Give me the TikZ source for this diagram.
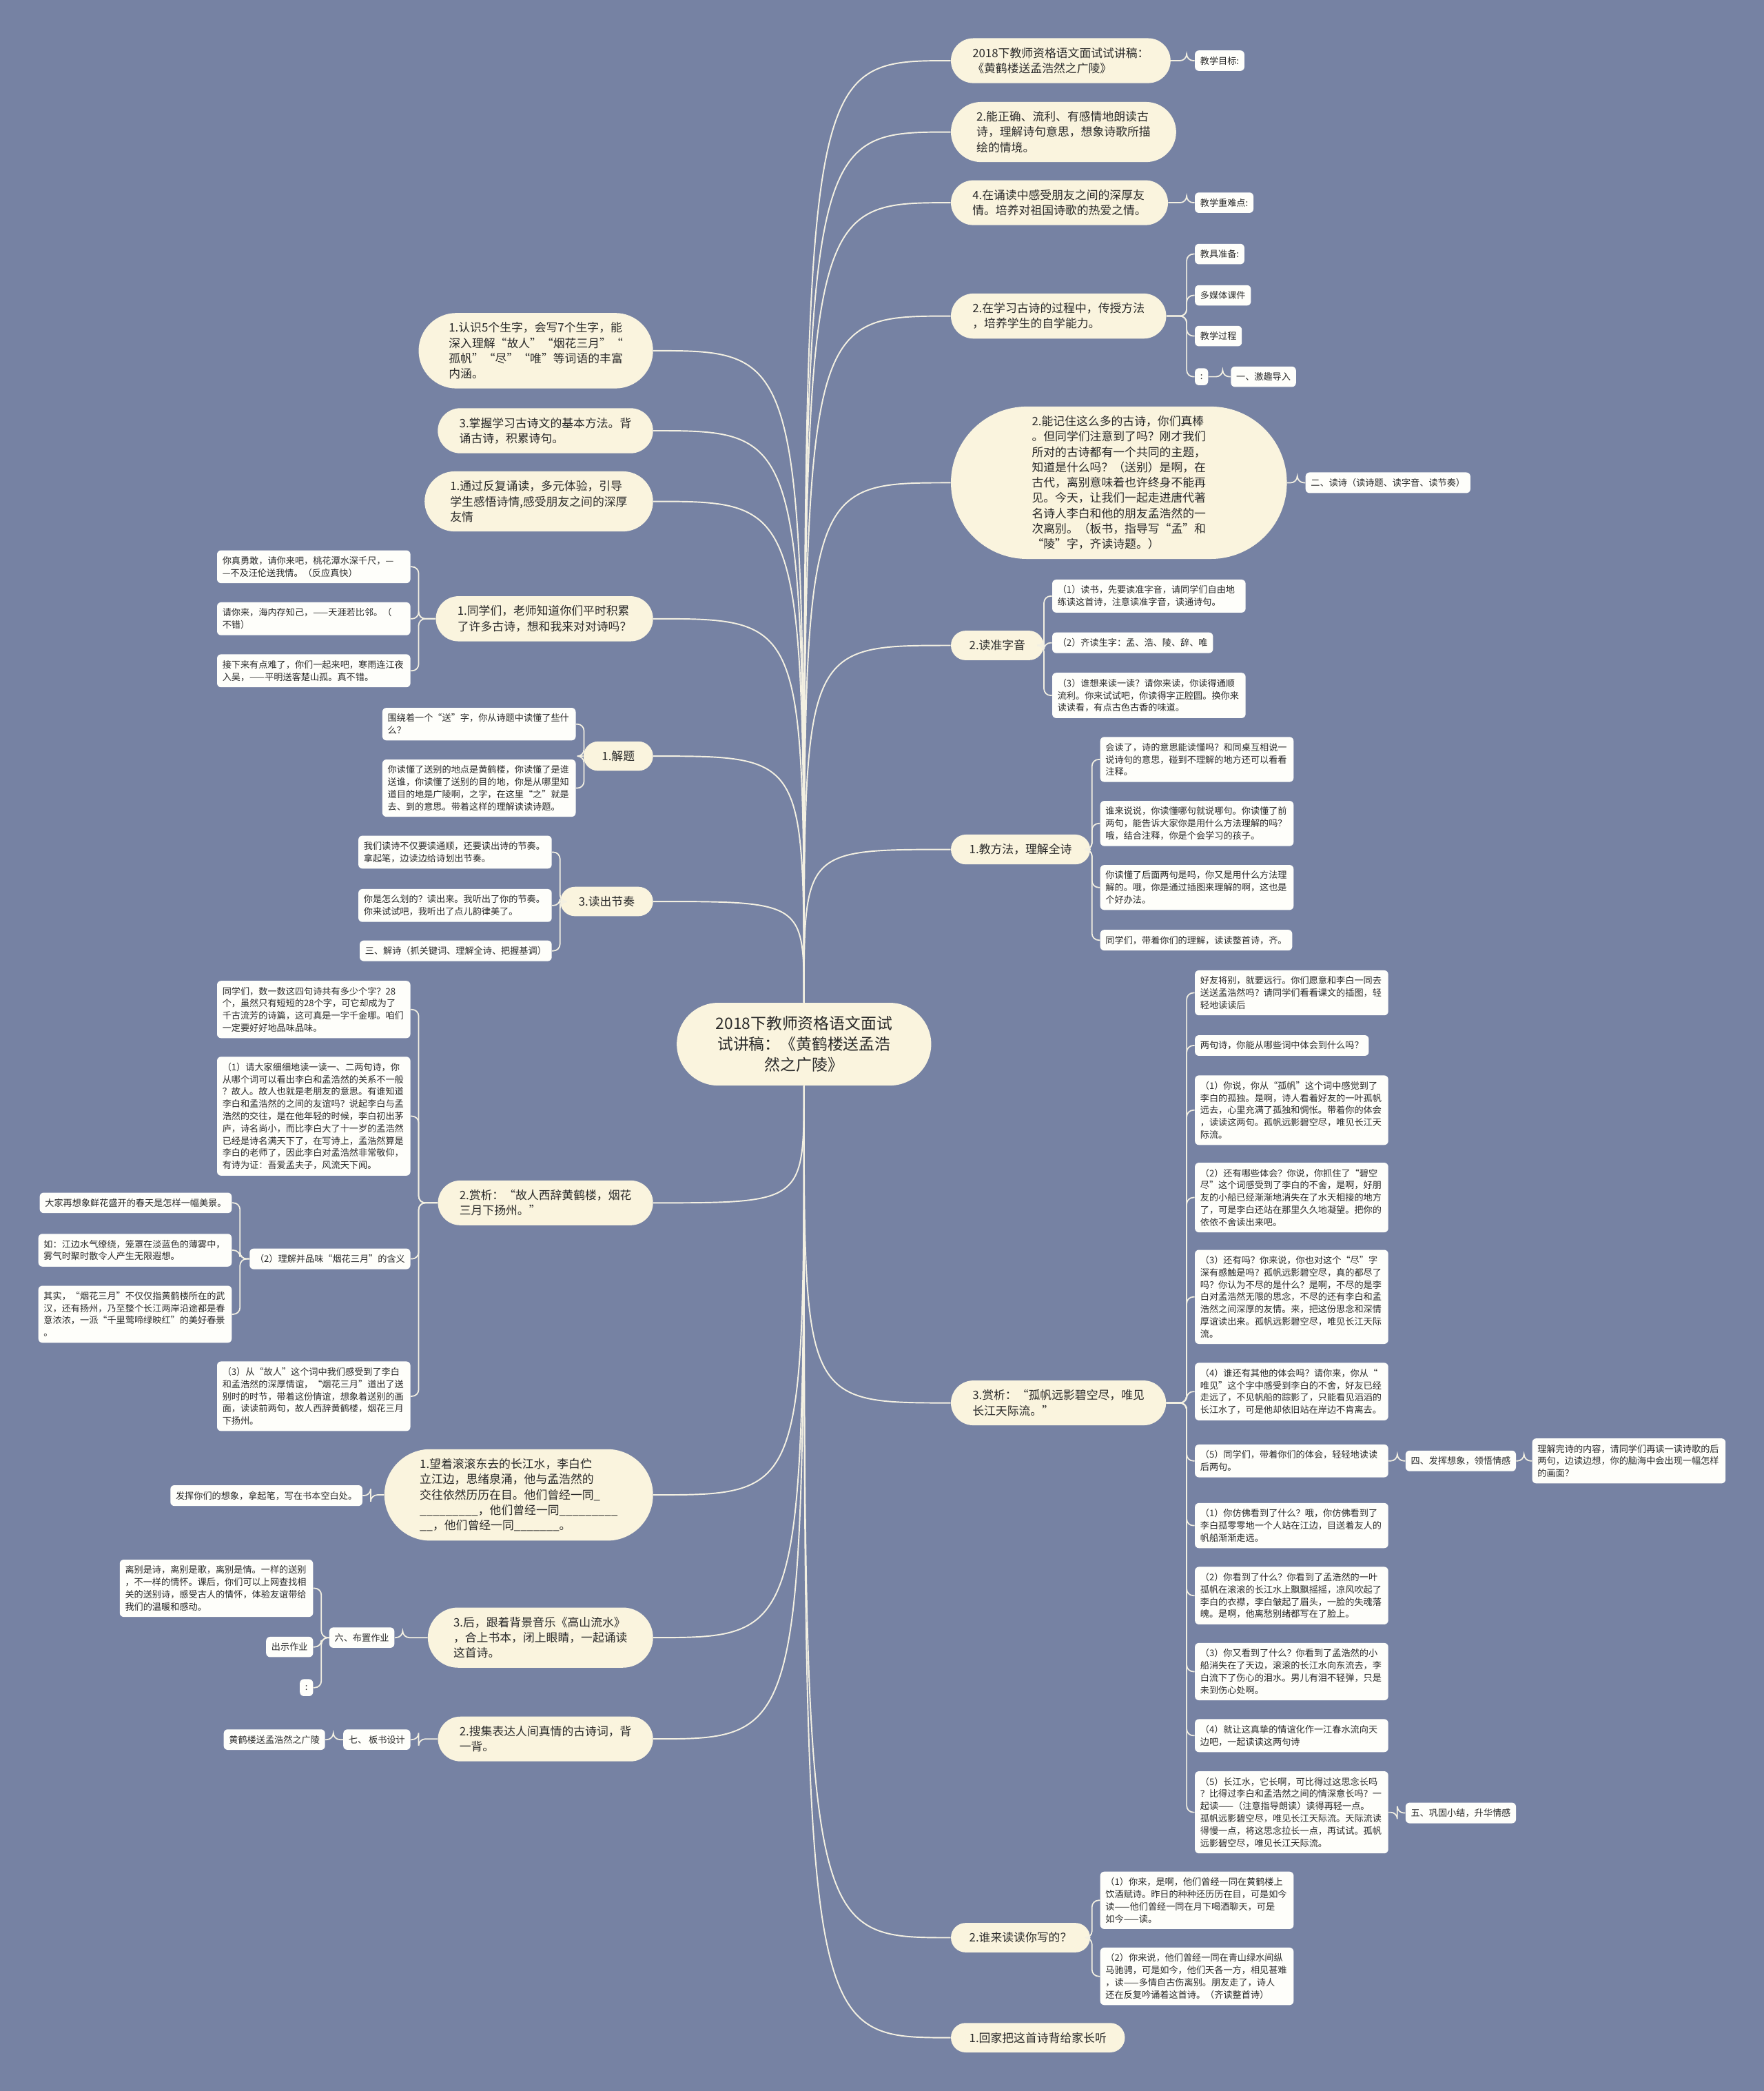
\documentclass[tikz,border=0pt]{standalone}
\usepackage{fontspec}
\setmainfont{Noto Sans CJK SC}
\usetikzlibrary{shapes.misc}
\definecolor{cBg}   {HTML}{7682A3}
\definecolor{cTopic}{HTML}{FAF4DE}
\definecolor{cLeaf} {HTML}{FEFEFA}
\definecolor{cLine} {HTML}{F3F0E2}
\definecolor{cText} {HTML}{2A2A2A}

\begin{document}
\begin{tikzpicture}[x=1pt, y=-1pt,
    hub/.style = {shape=rounded rectangle, fill=cTopic, text=cText, align=center, inner xsep=21pt, inner ysep=10pt, font=\fontsize{11.8}{15.5}\selectfont},
    topic/.style = {shape=rounded rectangle, fill=cTopic, text=cText, align=left, inner xsep=13pt, inner ysep=7pt, font=\fontsize{8.7}{11.5}\selectfont},
    leaf/.style = {fill=cLeaf, text=cText, rounded corners=3pt, align=left, inner xsep=4pt, inner ysep=4.5pt, font=\fontsize{6.8}{9.2}\selectfont},
    para/.style = {leaf, text width=137pt},
    link/.style = {draw=cLine, line width=1pt},
    branch/.style = {draw=cLine, line width=0.9pt, rounded corners=5pt} ]
  \fill[cBg] (0,0) rectangle (1323,1568);
  \useasboundingbox (0,0) rectangle (1323,1568);

  \node[hub] (root) at (603,783) {2018下教师资格语文面试\\试讲稿：《黄鹤楼送孟浩\\然之广陵》};

  % right side
  \node[topic, anchor=west] (r1) at (713,45.5) {2018下教师资格语文面试试讲稿：\\《黄鹤楼送孟浩然之广陵》};
  \node[topic, anchor=west] (r2) at (713,99) {2.能正确、流利、有感情地朗读古\\诗，理解诗句意思，想象诗歌所描\\绘的情境。};
  \node[topic, anchor=west] (r3) at (713,152) {4.在诵读中感受朋友之间的深厚友\\情。培养对祖国诗歌的热爱之情。};
  \node[topic, anchor=west] (r4) at (713,237) {2.在学习古诗的过程中，传授方法\\，培养学生的自学能力。};
  \node[topic, anchor=west, inner xsep=31pt] (r5) at (713,362) {2.能记住这么多的古诗，你们真棒\\。但同学们注意到了吗？刚才我们\\所对的古诗都有一个共同的主题，\\知道是什么吗？（送别）是啊，在\\古代，离别意味着也许终身不能再\\见。今天，让我们一起走进唐代著\\名诗人李白和他的朋友孟浩然的一\\次离别。（板书，指导写“孟”和\\“陵”字，齐读诗题。）};
  \node[topic, anchor=west] (r6) at (713,484) {2.读准字音};
  \node[topic, anchor=west] (r7) at (713,637) {1.教方法，理解全诗};
  \node[topic, anchor=west] (r8) at (713,1052) {3.赏析：“孤帆远影碧空尽，唯见\\长江天际流。”};
  \node[topic, anchor=west] (r9) at (713,1453) {2.谁来读读你写的？};
  \node[topic, anchor=west] (r10) at (713,1528) {1.回家把这首诗背给家长听};

  \node[leaf, anchor=west] (r1a) at (896,45.5) {教学目标:};
  \node[leaf, anchor=west] (r3a) at (896,152) {教学重难点:};
  \node[leaf, anchor=west] (r4a) at (896,190.5) {教具准备:};
  \node[leaf, anchor=west] (r4b) at (896,221.5) {多媒体课件};
  \node[leaf, anchor=west] (r4c) at (896,252) {教学过程};
  \node[leaf, anchor=west] (r4d) at (896,282.5) {:};
  \node[leaf, anchor=west] (r4e) at (923,282.5) {一、激趣导入};
  \node[leaf, anchor=west] (r5a) at (979,362) {二、读诗（读诗题、读字音、读节奏）};

  \node[para, anchor=west] (r6a) at (789,447) {（1）读书，先要读准字音，请同学们自由地\\练读这首诗，注意读准字音，读通诗句。};
  \node[leaf, anchor=west] (r6b) at (789,482) {（2）齐读生字：孟、浩、陵、辞、唯};
  \node[para, anchor=west] (r6c) at (789,521.5) {（3）谁想来读一读？请你来读，你读得通顺\\流利。你来试试吧，你读得字正腔圆。换你来\\读读看，有点古色古香的味道。};

  \node[para, anchor=west] (r7a) at (825,569.5) {会读了，诗的意思能读懂吗？和同桌互相说一\\说诗句的意思，碰到不理解的地方还可以看看\\注释。};
  \node[para, anchor=west] (r7b) at (825,617.5) {谁来说说，你读懂哪句就说哪句。你读懂了前\\两句，能告诉大家你是用什么方法理解的吗？\\哦，结合注释，你是个会学习的孩子。};
  \node[para, anchor=west] (r7c) at (825,665.5) {你读懂了后面两句是吗，你又是用什么方法理\\解的。哦，你是通过插图来理解的啊，这也是\\个好办法。};
  \node[leaf, anchor=west] (r7d) at (825,705) {同学们，带着你们的理解，读读整首诗，齐。};

  \node[para, anchor=west] (r8a) at (896,744.5) {好友将别，就要远行。你们愿意和李白一同去\\送送孟浩然吗？请同学们看看课文的插图，轻\\轻地读读后};
  \node[leaf, anchor=west] (r8b) at (896,784) {两句诗，你能从哪些词中体会到什么吗？};
  \node[para, anchor=west] (r8c) at (896,832.5) {（1）你说，你从“孤帆”这个词中感觉到了\\李白的孤独。是啊，诗人看着好友的一叶孤帆\\远去，心里充满了孤独和惆怅。带着你的体会\\，读读这两句。孤帆远影碧空尽，唯见长江天\\际流。};
  \node[para, anchor=west] (r8d) at (896,898) {（2）还有哪些体会？你说，你抓住了“碧空\\尽”这个词感受到了李白的不舍，是啊，好朋\\友的小船已经渐渐地消失在了水天相接的地方\\了，可是李白还站在那里久久地凝望。把你的\\依依不舍读出来吧。};
  \node[para, anchor=west] (r8e) at (896,972.5) {（3）还有吗？你来说，你也对这个“尽”字\\深有感触是吗？孤帆远影碧空尽，真的都尽了\\吗？你认为不尽的是什么？是啊，不尽的是李\\白对孟浩然无限的思念，不尽的还有李白和孟\\浩然之间深厚的友情。来，把这份思念和深情\\厚谊读出来。孤帆远影碧空尽，唯见长江天际\\流。};
  \node[para, anchor=west] (r8f) at (896,1043.5) {（4）谁还有其他的体会吗？请你来，你从“\\唯见”这个字中感受到李白的不舍，好友已经\\走远了，不见帆船的踪影了，只能看见滔滔的\\长江水了，可是他却依旧站在岸边不肯离去。};
  \node[para, anchor=west] (r8g) at (896,1095.5) {（5）同学们，带着你们的体会，轻轻地读读\\后两句。};
  \node[para, anchor=west] (r8h) at (896,1144) {（1）你仿佛看到了什么？哦，你仿佛看到了\\李白孤零零地一个人站在江边，目送着友人的\\帆船渐渐走远。};
  \node[para, anchor=west] (r8i) at (896,1196.5) {（2）你看到了什么？你看到了孟浩然的一叶\\孤帆在滚滚的长江水上飘飘摇摇，凉风吹起了\\李白的衣襟，李白皱起了眉头，一脸的失魂落\\魄。是啊，他离愁别绪都写在了脸上。};
  \node[para, anchor=west] (r8j) at (896,1253.5) {（3）你又看到了什么？你看到了孟浩然的小\\船消失在了天边，滚滚的长江水向东流去，李\\白流下了伤心的泪水。男儿有泪不轻弹，只是\\未到伤心处啊。};
  \node[para, anchor=west] (r8k) at (896,1301.5) {（4）就让这真挚的情谊化作一江春水流向天\\边吧，一起读读这两句诗};
  \node[para, anchor=west] (r8l) at (896,1359) {（5）长江水，它长啊，可比得过这思念长吗\\？比得过李白和孟浩然之间的情深意长吗？一\\起读——（注意指导朗读）读得再轻一点。\\孤帆远影碧空尽，唯见长江天际流。天际流读\\得慢一点，将这思念拉长一点，再试试。孤帆\\远影碧空尽，唯见长江天际流。};
  \node[leaf, anchor=west] (r8ga) at (1054,1095.5) {四、发挥想象，领悟情感};
  \node[para, anchor=west] (r8gb) at (1149,1095.5) {理解完诗的内容，请同学们再读一读诗歌的后\\两句，边读边想，你的脑海中会出现一幅怎样\\的画面？};
  \node[leaf, anchor=west] (r8la) at (1054,1359.5) {五、巩固小结，升华情感};

  \node[para, anchor=west] (r9a) at (825,1425) {（1）你来，是啊，他们曾经一同在黄鹤楼上\\饮酒赋诗。昨日的种种还历历在目，可是如今\\读——他们曾经一同在月下喝酒聊天，可是\\如今——读。};
  \node[para, anchor=west] (r9b) at (825,1482) {（2）你来说，他们曾经一同在青山绿水间纵\\马驰骋，可是如今，他们天各一方，相见甚难\\，读——多情自古伤离别。朋友走了，诗人\\还在反复吟诵着这首诗。（齐读整首诗）};

  % left side
  \node[topic, anchor=east] (l1) at (490,263) {1.认识5个生字，会写7个生字，能\\深入理解“故人”“烟花三月”“\\孤帆”“尽”“唯”等词语的丰富\\内涵。};
  \node[topic, anchor=east] (l2) at (490,323) {3.掌握学习古诗文的基本方法。背\\诵古诗，积累诗句。};
  \node[topic, anchor=east] (l3) at (490,376) {1.通过反复诵读，多元体验，引导\\学生感悟诗情,感受朋友之间的深厚\\友情};
  \node[topic, anchor=east] (l4) at (490,464) {1.同学们，老师知道你们平时积累\\了许多古诗，想和我来对对诗吗？};
  \node[topic, anchor=east] (l5) at (490,567) {1.解题};
  \node[topic, anchor=east] (l6) at (490,676) {3.读出节奏};
  \node[topic, anchor=east] (l7) at (490,902) {2.赏析：“故人西辞黄鹤楼，烟花\\三月下扬州。”};
  \node[topic, anchor=east] (l8) at (490,1121) {1.望着滚滚东去的长江水，李白伫\\立江边，思绪泉涌，他与孟浩然的\\交往依然历历在目。他们曾经一同\_\\\_\_\_\_\_\_\_\_\_，他们曾经一同\_\_\_\_\_\_\_\_\_\\\_\_，他们曾经一同\_\_\_\_\_\_\_。};
  \node[topic, anchor=east] (l9) at (490,1228) {3.后，跟着背景音乐《高山流水》\\，合上书本，闭上眼睛，一起诵读\\这首诗。};
  \node[topic, anchor=east] (l10) at (490,1304) {2.搜集表达人间真情的古诗词，背\\一背。};

  \node[para, anchor=east] (l4a) at (308,425) {你真勇敢，请你来吧，桃花潭水深千尺，—\\—不及汪伦送我情。（反应真快）};
  \node[para, anchor=east] (l4b) at (308,464) {请你来，海内存知己，——天涯若比邻。（\\不错）};
  \node[para, anchor=east] (l4c) at (308,503) {接下来有点难了，你们一起来吧，寒雨连江夜\\入吴，——平明送客楚山孤。真不错。};
  \node[para, anchor=east] (l5a) at (432,543) {围绕着一个“送”字，你从诗题中读懂了些什\\么？};
  \node[para, anchor=east] (l5b) at (432,591) {你读懂了送别的地点是黄鹤楼，你读懂了是谁\\送谁，你读懂了送别的目的地，你是从哪里知\\道目的地是广陵啊，之字，在这里“之”就是\\去、到的意思。带着这样的理解读读诗题。};
  \node[para, anchor=east] (l6a) at (414,639) {我们读诗不仅要读通顺，还要读出诗的节奏。\\拿起笔，边读边给诗划出节奏。};
  \node[para, anchor=east] (l6b) at (414,679) {你是怎么划的？读出来。我听出了你的节奏。\\你来试试吧，我听出了点儿韵律美了。};
  \node[leaf, anchor=east] (l6c) at (414,713) {三、解诗（抓关键词、理解全诗、把握基调）};

  \node[para, anchor=east] (l7a) at (308,757) {同学们，数一数这四句诗共有多少个字？28\\个，虽然只有短短的28个字，可它却成为了\\千古流芳的诗篇，这可真是一字千金哪。咱们\\一定要好好地品味品味。};
  \node[para, anchor=east] (l7b) at (308,837) {（1）请大家细细地读一读一、二两句诗，你\\从哪个词可以看出李白和孟浩然的关系不一般\\？故人。故人也就是老朋友的意思。有谁知道\\李白和孟浩然的之间的友谊吗？说起李白与孟\\浩然的交往，是在他年轻的时候，李白初出茅\\庐，诗名尚小，而比李白大了十一岁的孟浩然\\已经是诗名满天下了，在写诗上，孟浩然算是\\李白的老师了，因此李白对孟浩然非常敬仰，\\有诗为证：吾爱孟夫子，风流天下闻。};
  \node[leaf, anchor=east] (l7c) at (308,944) {（2）理解并品味“烟花三月”的含义};
  \node[leaf, anchor=east] (l7ca) at (174,902) {大家再想象鲜花盛开的春天是怎样一幅美景。};
  \node[para, anchor=east] (l7cb) at (174,937.5) {如：江边水气缭绕，笼罩在淡蓝色的薄雾中，\\雾气时聚时散令人产生无限遐想。};
  \node[para, anchor=east] (l7cc) at (174,985.5) {其实，“烟花三月”不仅仅指黄鹤楼所在的武\\汉，还有扬州，乃至整个长江两岸沿途都是春\\意浓浓，一派“千里莺啼绿映红”的美好春景\\。};
  \node[para, anchor=east] (l7d) at (308,1047) {（3）从“故人”这个词中我们感受到了李白\\和孟浩然的深厚情谊，“烟花三月”道出了送\\别时的时节，带着这份情谊，想象着送别的画\\面，读读前两句，故人西辞黄鹤楼，烟花三月\\下扬州。};

  \node[leaf, anchor=east] (l8a) at (272,1121.5) {发挥你们的想象，拿起笔，写在书本空白处。};
  \node[leaf, anchor=east] (l9a) at (296,1228) {六、布置作业};
  \node[para, anchor=east] (l9aa) at (235,1191) {离别是诗，离别是歌，离别是情。一样的送别\\，不一样的情怀。课后，你们可以上网查找相\\关的送别诗，感受古人的情怀，体验友谊带给\\我们的温暖和感动。};
  \node[leaf, anchor=east] (l9ab) at (235,1235) {出示作业};
  \node[leaf, anchor=east] (l9ac) at (235,1265.5) {:};
  \node[leaf, anchor=east] (l10a) at (308,1304.5) {七、 板书设计};
  \node[leaf, anchor=east] (l10aa) at (244,1304.5) {黄鹤楼送孟浩然之广陵};

  % connectors from the centre
  \foreach \n in {r1,r2,r3,r4,r5,r6,r7}
    \draw[link] (root.north) .. controls (root.north |- \n.west) .. (\n.west);
  \foreach \n in {r8,r9,r10}
    \draw[link] (root.south) .. controls (root.south |- \n.west) .. (\n.west);
  \foreach \n in {l1,l2,l3,l4,l5,l6}
    \draw[link] (root.north) .. controls (root.north |- \n.east) .. (\n.east);
  \foreach \n in {l7,l8,l9,l10}
    \draw[link] (root.south) .. controls (root.south |- \n.east) .. (\n.east);

  % branches, right
  \foreach \p/\k in {r1/r1a, r3/r3a, r4/r4a, r4/r4b, r4/r4c, r4/r4d, r4d/r4e, r5/r5a,
      r6/r6a, r6/r6b, r6/r6c, r7/r7a, r7/r7b, r7/r7c, r7/r7d,
      r8/r8a, r8/r8b, r8/r8c, r8/r8d, r8/r8e, r8/r8f, r8/r8g, r8/r8h, r8/r8i, r8/r8j, r8/r8k, r8/r8l,
      r8g/r8ga, r8ga/r8gb, r8l/r8la, r9/r9a, r9/r9b}
    \draw[branch] (\p.east) -| ([xshift=-6pt]\k.west) -- (\k.west);
  % branches, left
  \foreach \p/\k in {l4/l4a, l4/l4b, l4/l4c, l5/l5a, l5/l5b, l6/l6a, l6/l6b, l6/l6c,
      l7/l7a, l7/l7b, l7/l7c, l7/l7d, l7c/l7ca, l7c/l7cb, l7c/l7cc,
      l8/l8a, l9/l9a, l9a/l9aa, l9a/l9ab, l9a/l9ac, l10/l10a, l10a/l10aa}
    \draw[branch] (\p.west) -| ([xshift=6pt]\k.east) -- (\k.east);
\end{tikzpicture}
\end{document}
